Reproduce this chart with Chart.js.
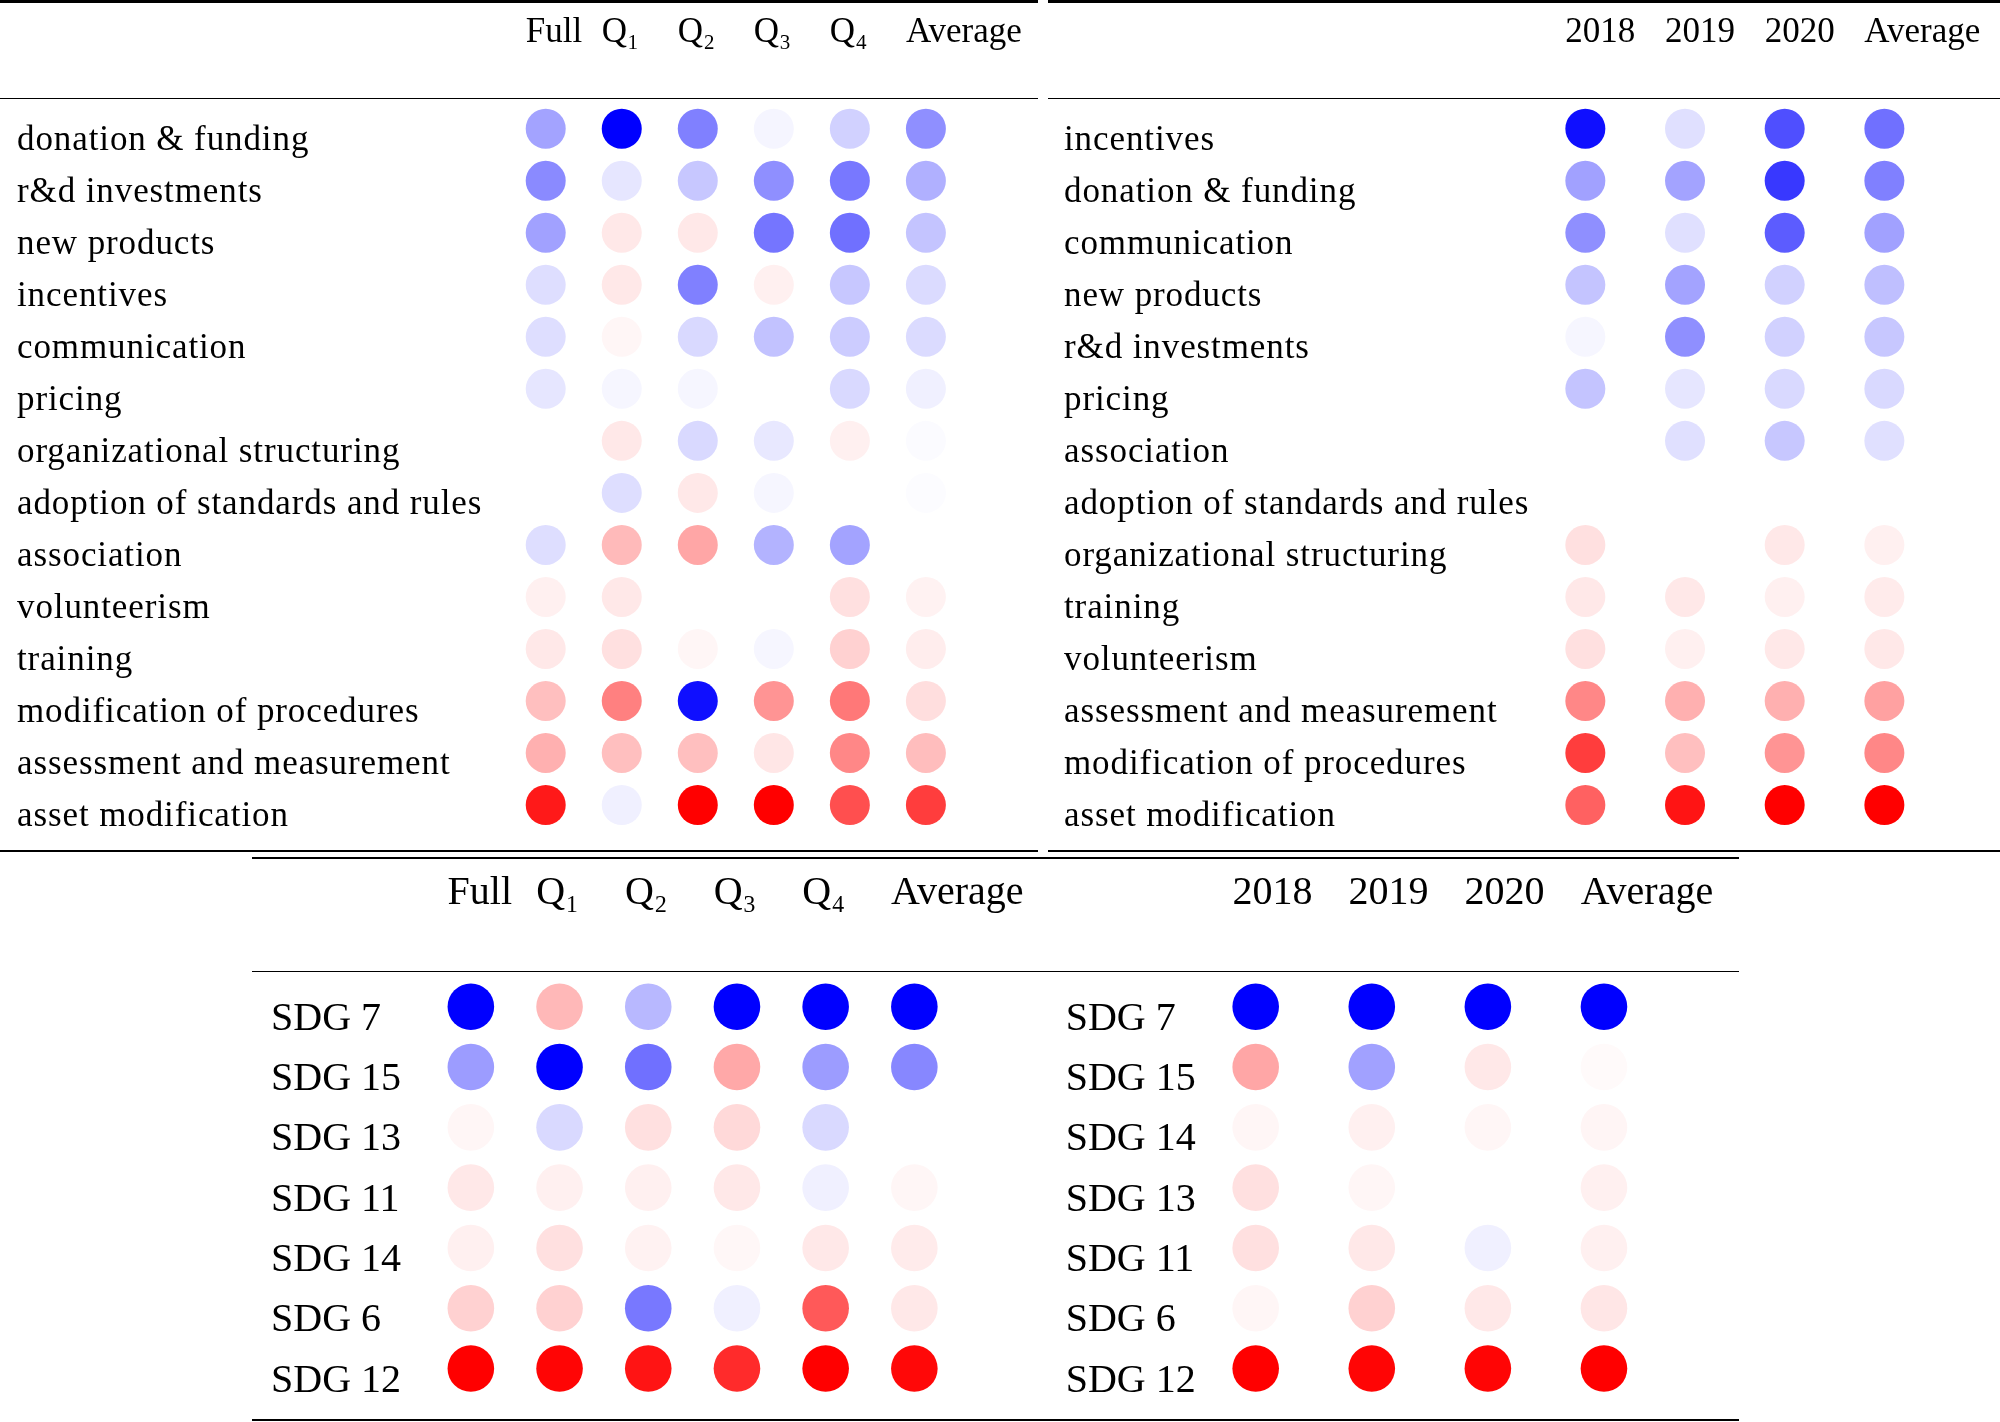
<!DOCTYPE html>
<html><head><meta charset="utf-8">
<script src="https://cdn.jsdelivr.net/npm/chart.js@4.4.1/dist/chart.umd.min.js"></script>
<style>
html,body{margin:0;padding:0;background:#fff;}
body{width:2000px;height:1422px;position:relative;overflow:hidden;}
canvas{position:absolute;}
.rule{position:absolute;background:#000;z-index:2;}
</style></head><body>
<canvas id="tl" width="1038" height="851" style="left:0;top:0"></canvas>
<canvas id="tr" width="952" height="851" style="left:1048px;top:0"></canvas>
<canvas id="bl" width="800" height="564" style="left:252px;top:858px"></canvas>
<canvas id="br" width="740" height="564" style="left:1000px;top:858px"></canvas>
<div class="rule" style="left:0;top:0;width:1038px;height:2.7px"></div>
<div class="rule" style="left:1048px;top:0;width:952px;height:2.7px"></div>
<div class="rule" style="left:0;top:98px;width:1038px;height:1.4px"></div>
<div class="rule" style="left:1048px;top:98px;width:952px;height:1.4px"></div>
<div class="rule" style="left:0;top:850px;width:1038px;height:2px"></div>
<div class="rule" style="left:1048px;top:850px;width:952px;height:2px"></div>
<div class="rule" style="left:252px;top:857.3px;width:1486.5px;height:2px"></div>
<div class="rule" style="left:252px;top:970.8px;width:1486.5px;height:1.4px"></div>
<div class="rule" style="left:252px;top:1418.5px;width:1486.5px;height:2.8px"></div>
<script>
// ---- data ----
const quarterCols = ['Full', 'Q\u2081', 'Q\u2082', 'Q\u2083', 'Q\u2084', 'Average'];
const yearCols = ['2018', '2019', '2020', 'Average'];

const tlRows = ['donation & funding', 'r&d investments', 'new products', 'incentives', 'communication', 'pricing',
  'organizational structuring', 'adoption of standards and rules', 'association', 'volunteerism', 'training',
  'modification of procedures', 'assessment and measurement', 'asset modification'];
// columns: Full, Q1, Q2, Q3, Q4, Average  (negative = blue, positive = red)
const tlValues = [
  [-0.36, -1.00, -0.50, -0.04, -0.18, -0.44],
  [-0.46, -0.10, -0.22, -0.44, -0.53, -0.31],
  [-0.37,  0.09,  0.09, -0.54, -0.56, -0.23],
  [-0.13,  0.09, -0.50,  0.06, -0.22, -0.14],
  [-0.13,  0.035, -0.15, -0.24, -0.20, -0.14],
  [-0.10, -0.035, -0.035, 0.00, -0.15, -0.06],
  [ 0.00,  0.09, -0.15, -0.09,  0.06, -0.015],
  [ 0.00, -0.13,  0.09, -0.035, 0.00, -0.012],
  [-0.13,  0.27,  0.35, -0.30, -0.36,  0.00],
  [ 0.06,  0.09,  0.00,  0.00,  0.12,  0.05],
  [ 0.09,  0.12,  0.035, -0.035, 0.18, 0.07],
  [ 0.25,  0.50, -0.94,  0.42,  0.53,  0.13],
  [ 0.31,  0.25,  0.25,  0.10,  0.47,  0.26],
  [ 0.90, -0.06,  1.00,  1.00,  0.69,  0.76]
];

const trRows = ['incentives', 'donation & funding', 'communication', 'new products', 'r&d investments', 'pricing',
  'association', 'adoption of standards and rules', 'organizational structuring', 'training', 'volunteerism',
  'assessment and measurement', 'modification of procedures', 'asset modification'];
// columns: 2018, 2019, 2020, Average
const trValues = [
  [-0.94, -0.12, -0.69, -0.56],
  [-0.37, -0.36, -0.78, -0.50],
  [-0.44, -0.12, -0.64, -0.37],
  [-0.23, -0.36, -0.18, -0.25],
  [-0.035, -0.44, -0.18, -0.22],
  [-0.23, -0.10, -0.15, -0.15],
  [ 0.00, -0.12, -0.22, -0.12],
  [ 0.00,  0.00,  0.00,  0.00],
  [ 0.12,  0.00,  0.09,  0.06],
  [ 0.09,  0.09,  0.06,  0.08],
  [ 0.12,  0.06,  0.09,  0.09],
  [ 0.47,  0.31,  0.31,  0.37],
  [ 0.76,  0.25,  0.42,  0.47],
  [ 0.62,  0.92,  1.00,  1.00]
];

const blRows = ['SDG 7', 'SDG 15', 'SDG 13', 'SDG 11', 'SDG 14', 'SDG 6', 'SDG 12'];
const blValues = [
  [-1.00,  0.28, -0.28, -1.00, -1.00, -1.00],
  [-0.39, -1.00, -0.56,  0.34, -0.39, -0.47],
  [ 0.035, -0.15, 0.12,  0.15, -0.15,  0.00],
  [ 0.09,  0.06,  0.06,  0.09, -0.06,  0.035],
  [ 0.06,  0.12,  0.05,  0.03,  0.09,  0.08],
  [ 0.18,  0.18, -0.53, -0.06,  0.65,  0.09],
  [ 1.00,  0.98,  0.92,  0.83,  1.00,  0.97]
];

const brRows = ['SDG 7', 'SDG 15', 'SDG 14', 'SDG 13', 'SDG 11', 'SDG 6', 'SDG 12'];
const brValues = [
  [-1.00, -1.00, -1.00, -1.00],
  [ 0.35, -0.37,  0.09,  0.02],
  [ 0.035, 0.06,  0.035, 0.04],
  [ 0.12,  0.035, 0.00,  0.06],
  [ 0.12,  0.09, -0.06,  0.06],
  [ 0.035, 0.18,  0.09,  0.10],
  [ 1.00,  0.98,  0.98,  1.00]
];

// ---- drawing ----
const FONT = '"Liberation Serif", "DejaVu Serif", serif';

function colorFor(v) {
  const a = Math.min(1, Math.abs(v));
  const l = Math.round(255 * (1 - a));
  return v < 0 ? `rgb(${l},${l},255)` : `rgb(255,${l},${l})`;
}

// widen row-label glyph spacing slightly (Palatino-like width)
const spacingPlugin = {
  id: 'rowLabelSpacing',
  beforeDraw(chart, args, opts) {
    const s = chart.scales.y;
    if (!s || s._spacedPatched) return;
    const orig = s.drawLabels.bind(s);
    s.drawLabels = function (area) {
      const c = this.ctx;
      c.save();
      c.letterSpacing = opts.spacing || '0px';
      orig(area);
      c.restore();
    };
    s._spacedPatched = true;
  }
};

function makeChart(id, cols, rows, values, o) {
  const pts = [];
  rows.forEach((r, i) => cols.forEach((c, j) => pts.push({x: c, y: r, v: values[i][j]})));
  const bg = ctx => colorFor(ctx.raw ? ctx.raw.v : 0);
  new Chart(document.getElementById(id), {
    type: 'scatter',
    plugins: [spacingPlugin],
    data: {datasets: [{
      data: pts,
      pointRadius: o.r, pointHoverRadius: o.r,
      pointBorderWidth: 0, borderWidth: 0,
      backgroundColor: bg, pointBackgroundColor: bg
    }]},
    options: {
      responsive: false, animation: false, events: [],
      layout: {padding: {left: o.padL, right: o.padR, top: 0, bottom: o.padB}},
      plugins: {legend: {display: false}, tooltip: {enabled: false},
                rowLabelSpacing: {spacing: o.ls}},
      scales: {
        x: {
          type: 'category', labels: cols, position: 'top', offset: true,
          grid: {display: false, drawTicks: false}, border: {display: false},
          ticks: {font: {family: FONT, size: o.fs}, color: '#000', align: 'start',
                  labelOffset: -o.r, padding: o.xPad, maxRotation: 0, minRotation: 0, autoSkip: false},
          afterFit: s => { s.height = o.xH; s.paddingLeft = 0; s.paddingRight = 0; }
        },
        y: {
          type: 'category', labels: rows, offset: true,
          grid: {display: false, drawTicks: false}, border: {display: false},
          ticks: {font: {family: FONT, size: o.fs}, color: '#000', crossAlign: 'far',
                  labelOffset: o.yOff, autoSkip: false},
          afterFit: s => { s.width = o.yW; s.paddingTop = 0; s.paddingBottom = 0; }
        }
      }
    }
  });
}

makeChart('tl', quarterCols, tlRows, tlValues,
  {r: 20, fs: 35, padL: 17, yW: 490.7, padR: 74.1, padB: 13.25, xH: 102.75, xPad: 48.8, yOff: 12.2, ls: '0.9px'});
makeChart('tr', yearCols, trRows, trValues,
  {r: 20, fs: 35, padL: 16, yW: 471.5, padR: 65.8, padB: 13.25, xH: 102.75, xPad: 48.8, yOff: 12.2, ls: '0.9px'});
makeChart('bl', quarterCols, blRows, blValues,
  {r: 23.3, fs: 40, padL: 19, yW: 155.5, padR: 93.3, padB: 17, xH: 118.6, xPad: 59.5, yOff: 12.5, ls: '0px'});
makeChart('br', yearCols, brRows, brValues,
  {r: 23.3, fs: 40, padL: 65.7, yW: 131.95, padR: 78, padB: 17, xH: 118.6, xPad: 59.5, yOff: 12.5, ls: '0px'});
</script>
</body></html>
